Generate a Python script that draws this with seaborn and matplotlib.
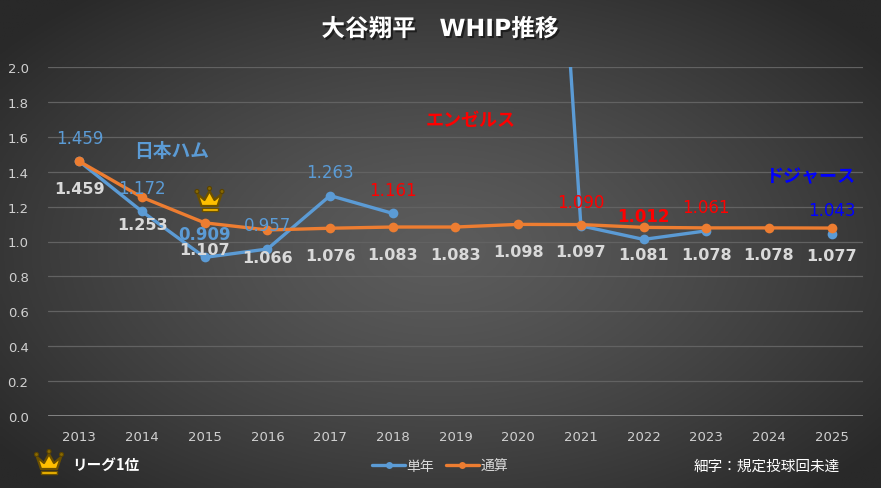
import numpy as np
import pandas as pd
import seaborn as sns
import matplotlib.pyplot as plt
from matplotlib.lines import Line2D
from matplotlib.patches import Polygon, Circle, Rectangle
import matplotlib.patheffects as pe

# ---- data ----
years = list(range(2013, 2026))
single = [1.459, 1.172, 0.909, 0.957, 1.263, 1.161, np.nan, 6.600, 1.090, 1.012, 1.061, np.nan, 1.043]
career = [1.459, 1.253, 1.107, 1.066, 1.076, 1.083, 1.083, 1.098, 1.097, 1.081, 1.078, 1.078, 1.077]
single_label_colors = ['#5B9BD5'] * 5 + ['#FF0000'] * 6 + ['#0000FF'] * 2
single_bold = [2015, 2022]
yticks = [0.0, 0.2, 0.4, 0.6, 0.8, 1.0, 1.2, 1.4, 1.6, 1.8, 2.0]

BLUE = '#5B9BD5'
ORANGE = '#ED7D31'
JP = ['Noto Sans CJK JP', 'DejaVu Sans']

sns.set_theme(style='dark')
plt.rcParams['font.family'] = JP

# split the single-season series into runs where the line is unbroken
seg = []
k = 0
prev_nan = False
for v in single:
    if np.isnan(v):
        prev_nan = True
        seg.append(-1)
        continue
    if prev_nan:
        k += 1
    prev_nan = False
    seg.append(k)
df_single = pd.DataFrame({'year': years, 'whip': single, 'seg': seg})
df_single = df_single[df_single['seg'] >= 0]
df_career = pd.DataFrame({'year': years, 'whip': career})

W, H = 881, 489
fig = plt.figure(figsize=(W / 100, H / 100), dpi=100)

# background radial gradient
bg = fig.add_axes([0, 0, 1, 1], zorder=-5)
gx, gy = np.meshgrid(np.linspace(0, W, 300), np.linspace(0, H, 200))
r = np.sqrt(((gx - 440) / 560) ** 2 + ((gy - 250) / 330) ** 2)
r = np.clip(r, 0, 1)
c0, c1 = 0x5c / 255, 0x29 / 255
img = c0 + (c1 - c0) * r ** 1.3
bg.imshow(np.dstack([img, img, img]), extent=[0, W, H, 0], aspect='auto')
bg.set_axis_off()

ax = fig.add_axes([48 / W, 1 - 417 / H, (863 - 48) / W, (417 - 68) / H])
ax.set_facecolor('none')

sns.lineplot(data=df_single, x='year', y='whip', units='seg', estimator=None,
             color=BLUE, linewidth=2.4, marker='o', markersize=7,
             markeredgewidth=0, sort=False, ax=ax, legend=False)
sns.lineplot(data=df_career, x='year', y='whip', estimator=None,
             color=ORANGE, linewidth=2.4, marker='o', markersize=7,
             markeredgewidth=0, sort=False, ax=ax, legend=False)

ax.set_xlim(years[0] - 0.5, years[-1] + 0.5)
ax.set_ylim(0, 2.0)
ax.set_xticks(years)
ax.set_xticklabels([str(y) for y in years], color='#D0D0D0', fontsize=9.5, family='DejaVu Sans')
ax.set_yticks(yticks)
ax.set_yticklabels([f'{v:.1f}' for v in yticks], color='#D0D0D0', fontsize=9.5, family='DejaVu Sans')
ax.tick_params(axis='y', length=0, pad=14)
ax.tick_params(axis='x', length=0, pad=10)
ax.set_xlabel('')
ax.set_ylabel('')
ax.grid(axis='y', color='#626262', linewidth=0.9)
ax.grid(axis='x', visible=False)
for s in ax.spines.values():
    s.set_visible(False)
ax.axhline(0, color='#9a9a9a', linewidth=1.8, zorder=1)

# value labels
for yr, v, col in zip(years, single, single_label_colors):
    if np.isnan(v) or v > 2.0:
        continue
    ax.annotate(f'{v:.3f}', (yr, v), xytext=(0, 17), textcoords='offset points',
                ha='center', va='center', color=col, fontsize=12,
                fontweight='bold' if yr in single_bold else 'normal',
                family='DejaVu Sans')
for yr, v in zip(years, career):
    ax.annotate(f'{v:.3f}', (yr, v), xytext=(0, -19.5), textcoords='offset points',
                ha='center', va='center', color='#D9D9D9', fontsize=11.5,
                fontweight='bold', family='DejaVu Sans')

# team names
ax.text(2014.47, 1.52, '日本ハム', color=BLUE, fontsize=13.5, fontweight='bold', ha='center', va='center')
ax.text(2019.24, 1.70, 'エンゼルス', color='#FF0000', fontsize=13, fontweight='bold', ha='center', va='center')
ax.text(2024.66, 1.375, 'ドジャース', color='#0000FF', fontsize=13, fontweight='bold', ha='center', va='center')

# overlay in pixel coordinates for figure-level decorations
ov = fig.add_axes([0, 0, 1, 1], zorder=5)
ov.set_xlim(0, W)
ov.set_ylim(H, 0)
ov.set_axis_off()
ov.patch.set_alpha(0)


def crown(cx, cy):
    body = [(-12, -5), (-5, 1), (0, -8), (5, 1), (12, -5), (8, 7), (-8, 7)]
    ov.add_patch(Polygon([(cx + x, cy + y) for x, y in body], closed=True,
                         facecolor='#FFC000', edgecolor='#6B5000', linewidth=1.6,
                         joinstyle='round'))
    ov.add_patch(Rectangle((cx - 8, cy + 9), 16, 2.5, facecolor='#FFC000',
                           edgecolor='#6B5000', linewidth=1.0))
    for x, y in [(-12.5, -7.5), (0, -10.5), (12.5, -7.5)]:
        ov.add_patch(Circle((cx + x, cy + y), 2.0, facecolor='#8A6A00',
                            edgecolor='#5A4300', linewidth=0.8))


crown(209.5, 200)
crown(49, 463)
ov.text(72, 465, 'リーグ1位', color='white', fontsize=10.5, fontweight='bold', va='center', ha='left')
ov.text(767, 467, '細字：規定投球回未達', color='white', fontsize=10.5, va='center', ha='center')

ov.text(440, 30, '大谷翔平\u3000WHIP推移', color='white', fontsize=17, fontweight='bold',
        ha='center', va='center', family=['DejaVu Sans', 'Noto Sans CJK JP'],
        path_effects=[pe.withSimplePatchShadow(offset=(1.5, -1.5), shadow_rgbFace='black', alpha=0.5)])

handles = [Line2D([], [], color=BLUE, linewidth=2.4, marker='o', markersize=5, markeredgewidth=0),
           Line2D([], [], color=ORANGE, linewidth=2.4, marker='o', markersize=5, markeredgewidth=0)]
fig.legend(handles, ['単年', '通算'], loc='center', bbox_to_anchor=(440 / W, 1 - 467 / H),
           ncol=2, frameon=False, labelcolor='#D9D9D9', fontsize=10, handlelength=2.4,
           handletextpad=0.1, columnspacing=0.8)

fig.savefig('out.png', dpi=100)
